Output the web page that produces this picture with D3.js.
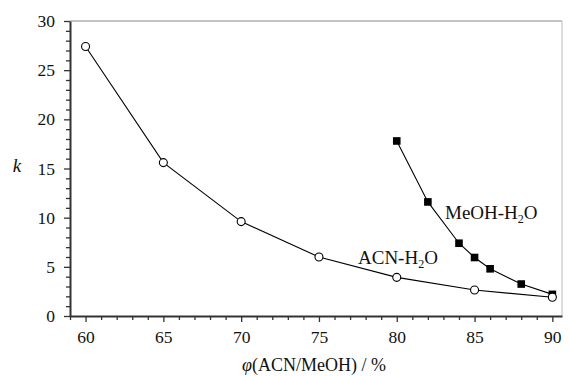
<!DOCTYPE html>
<html>
<head>
<meta charset="utf-8">
<script src="https://cdn.jsdelivr.net/npm/d3@7"></script>
<style>
  body { margin: 0; background: #fff; }
  svg text { font-family: "Liberation Serif", "Times New Roman", serif; fill: #111; }
</style>
</head>
<body>
<svg id="chart" width="569" height="376"></svg>
<script>
// ACN-H2O series (open circles)
const acnX = [60, 65, 70, 75, 80, 85, 90];
const acnK = [27.4, 15.6, 9.6, 6.0, 3.93, 2.64, 1.9];
// MeOH-H2O series (filled squares)
const meohX = [80, 82, 84, 85, 86, 88, 90];
const meohK = [17.8, 11.6, 7.4, 5.95, 4.8, 3.25, 2.2];

const xTicks = [60, 65, 70, 75, 80, 85, 90];
const yTicks = [0, 5, 10, 15, 20, 25, 30];

const svg = d3.select('#chart');
const mLeft = 70, mRight = 562, mTop = 21, mBottom = 316;
const serif = '"Liberation Serif", "Times New Roman", serif';

const x = d3.scaleLinear().domain([59, 90.62]).range([mLeft, mRight]);
const y = d3.scaleLinear().domain([0, 30]).range([mBottom, mTop]);

// frame top/right
svg.append('line').attr('x1', mLeft).attr('x2', mRight).attr('y1', mTop).attr('y2', mTop)
  .attr('stroke', '#888').attr('stroke-width', 1);
svg.append('line').attr('x1', mRight).attr('x2', mRight).attr('y1', mTop).attr('y2', mBottom)
  .attr('stroke', '#bbb').attr('stroke-width', 1);

// minor ticks
const xMinor = d3.range(59, 91, 1).filter(v => v % 5 !== 0);
const yMinor = d3.range(1, 30, 1).filter(v => v % 5 !== 0);

svg.append('g').attr('transform', `translate(0,${mBottom})`)
  .call(d3.axisBottom(x).tickValues(xTicks).tickSize(6).tickPadding(9).tickSizeOuter(0));
svg.append('g').attr('transform', `translate(0,${mBottom})`)
  .call(d3.axisBottom(x).tickValues(xMinor).tickSize(4).tickFormat('').tickSizeOuter(0))
  .select('.domain').remove();

svg.append('g').attr('transform', `translate(${mLeft},0)`)
  .call(d3.axisLeft(y).tickValues(yTicks).tickSize(6).tickPadding(9).tickSizeOuter(0));
svg.append('g').attr('transform', `translate(${mLeft},0)`)
  .call(d3.axisLeft(y).tickValues(yMinor).tickSize(4).tickFormat('').tickSizeOuter(0))
  .select('.domain').remove();

svg.selectAll('.domain').attr('stroke', '#333').attr('stroke-width', 2);
svg.selectAll('.tick line').attr('stroke', '#333').attr('stroke-width', 1.3);
svg.selectAll('.tick text')
  .style('font-family', serif).style('font-size', '17.5px').style('fill', '#111');

// lines
const line = d3.line().x(d => x(d[0])).y(d => y(d[1]));
const acn = acnX.map((v, i) => [v, acnK[i]]);
const meoh = meohX.map((v, i) => [v, meohK[i]]);

svg.append('path').datum(acn).attr('d', line)
  .attr('fill', 'none').attr('stroke', '#000').attr('stroke-width', 1.1);
svg.append('path').datum(meoh).attr('d', line)
  .attr('fill', 'none').attr('stroke', '#000').attr('stroke-width', 1.1);

svg.selectAll('.sq').data(meoh).enter().append('rect')
  .attr('x', d => x(d[0]) - 3.8).attr('y', d => y(d[1]) - 3.8)
  .attr('width', 7.6).attr('height', 7.6).attr('fill', '#000');

svg.selectAll('.ci').data(acn).enter().append('circle')
  .attr('cx', d => x(d[0])).attr('cy', d => y(d[1])).attr('r', 4)
  .attr('fill', '#fff').attr('stroke', '#000').attr('stroke-width', 1.1);

// series labels
const lab1 = svg.append('text').attr('x', 445).attr('y', 219).attr('font-size', 19);
lab1.append('tspan').text('MeOH-H');
lab1.append('tspan').attr('font-size', 12).attr('dy', 4).text('2');
lab1.append('tspan').attr('dy', -4).text('O');

const lab2 = svg.append('text').attr('x', 358).attr('y', 264).attr('font-size', 19);
lab2.append('tspan').text('ACN-H');
lab2.append('tspan').attr('font-size', 12).attr('dy', 4).text('2');
lab2.append('tspan').attr('dy', -4).text('O');

// axis titles
svg.append('text').attr('x', 17).attr('y', 172).attr('text-anchor', 'middle')
  .attr('font-size', 19).attr('font-style', 'italic').text('k');

const xt = svg.append('text').attr('x', 314).attr('y', 371).attr('text-anchor', 'middle')
  .attr('font-size', 18);
xt.append('tspan').attr('font-style', 'italic').text('φ');
xt.append('tspan').text('(ACN/MeOH) / %');
</script>
</body>
</html>
